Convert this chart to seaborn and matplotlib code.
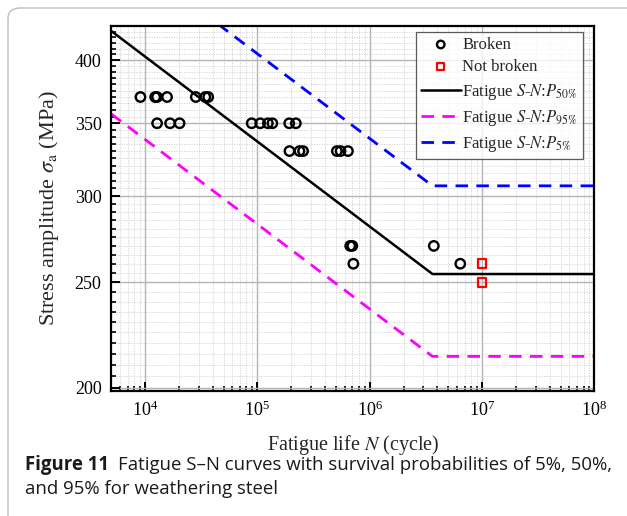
import numpy as np
import pandas as pd
import matplotlib
matplotlib.use("Agg")
import matplotlib.pyplot as plt
import matplotlib.ticker as mticker
from matplotlib.patches import FancyBboxPatch
import seaborn as sns

# Test data
broken_N = [9.1e3, 1.23e4, 1.28e4, 1.57e4, 2.83e4, 3.44e4, 3.65e4,
            1.28e4, 1.67e4, 2.03e4, 8.9e4, 1.06e5, 1.24e5, 1.36e5, 1.92e5, 2.2e5,
            1.93e5, 2.37e5, 2.55e5, 5.1e5, 5.5e5, 6.4e5,
            6.7e5, 7.0e5, 3.72e6,
            7.15e5, 6.4e6]
broken_S = [370, 370, 370, 370, 370, 370, 370,
            350, 350, 350, 350, 350, 350, 350, 350, 350,
            330, 330, 330, 330, 330, 330,
            270, 270, 270,
            260, 260]
runout_N = [1e7, 1e7]
runout_S = [260, 250]

# S-N curves (knee point, then constant)
curve_N = [5e3, 3.62e6, 1e8]
p50_S = [425.5, 254.4, 254.4]
p95_S = [357.0, 213.7, 213.7]
p5_S = [512.0, 306.6, 306.6]

y_major = [200, 250, 300, 350, 400]
x_major = [1e4, 1e5, 1e6, 1e7, 1e8]

sns.set_theme(style="ticks")
plt.rcParams['font.family'] = ['Liberation Serif', 'DejaVu Serif']
plt.rcParams['mathtext.fontset'] = 'stix'

fig = plt.figure(figsize=(6.27, 5.16), dpi=100)
ax = fig.add_axes([0.1774, 0.2422, 0.7706, 0.7074])

# outer rounded frame of the figure panel
frame = FancyBboxPatch((8 / 627, 1 - 8 / 516 - 1.1), 1.2, 1.1,
                       boxstyle="round,pad=0,rounding_size=0.02",
                       transform=fig.transFigure, fill=False,
                       edgecolor="#bdbdbd", linewidth=1.0, clip_on=False)
fig.patches.append(frame)

curves = pd.DataFrame({"N": curve_N, "P50": p50_S, "P95": p95_S, "P5": p5_S})

sns.scatterplot(x=broken_N, y=broken_S, ax=ax, marker="o", s=46,
                facecolors="none", edgecolor="black", linewidth=1.7,
                label="Broken", zorder=5)
sns.scatterplot(x=runout_N, y=runout_S, ax=ax, marker="s", s=40,
                facecolors="none", edgecolor="#ff0000", linewidth=1.6,
                label="Not broken", zorder=5)
sns.lineplot(data=curves, x="N", y="P50", ax=ax, color="black", linewidth=1.8,
             sort=False, label=r"Fatigue $S$-$N$:$P_{50\%}$")
sns.lineplot(data=curves, x="N", y="P95", ax=ax, color="#ff00ff", linewidth=2.0,
             linestyle=(0, (4.5, 3)), sort=False,
             label=r"Fatigue $S$-$N$:$P_{95\%}$")
sns.lineplot(data=curves, x="N", y="P5", ax=ax, color="#0000ff", linewidth=2.0,
             linestyle=(0, (4.5, 3)), sort=False,
             label=r"Fatigue $S$-$N$:$P_{5\%}$")

ax.set_xscale("log")
ax.set_yscale("log")
ax.set_xlim(5e3, 1e8)
ax.set_ylim(198.6, 430)

ax.xaxis.set_major_locator(mticker.FixedLocator(x_major))
ax.xaxis.set_minor_locator(mticker.LogLocator(base=10, subs=np.arange(2, 10)))
ax.xaxis.set_minor_formatter(mticker.NullFormatter())
ax.yaxis.set_major_locator(mticker.FixedLocator(y_major))
ax.yaxis.set_major_formatter(mticker.FixedFormatter([str(v) for v in y_major]))
ax.yaxis.set_minor_locator(mticker.FixedLocator([v for v in range(200, 431, 5) if v % 50]))
ax.yaxis.set_minor_formatter(mticker.NullFormatter())

ax.grid(which="major", color="#b4b4b4", linewidth=1.0, linestyle="-")
ax.grid(which="minor", color="#d0d0d0", linewidth=0.6, linestyle=(0, (1.5, 1.5)))
ax.set_axisbelow(True)

for sp in ax.spines.values():
    sp.set_linewidth(1.6)
    sp.set_color("black")
ax.tick_params(which="both", direction="in", top=False, right=False,
               labelsize=13, colors="black")
ax.tick_params(which="major", length=6.5, width=1.4, pad=7)
ax.tick_params(which="minor", length=3.5, width=1.2)

ax.set_xlabel(r"Fatigue life $N$ (cycle)", fontsize=14.5, labelpad=9)
ax.set_ylabel(r"Stress amplitude $\sigma_{\rm a}$ (MPa)", fontsize=16, labelpad=10)

leg = ax.legend(loc="upper right", bbox_to_anchor=(0.976, 0.984), fontsize=12,
                frameon=True, fancybox=False, edgecolor="#333333",
                handlelength=2.4, handletextpad=0.1, borderpad=0.3,
                labelspacing=0.38, borderaxespad=0, markerscale=0.8)
leg.get_frame().set_linewidth(0.9)

# caption
cap_font = ["Open Sans", "DejaVu Sans"]
cap1 = fig.text(25 / 627, 1 - 465 / 516, "Figure 11", fontsize=13.4,
                fontweight="bold", family=cap_font,
                va="center", ha="left", color="#1a1a1a")
fig.canvas.draw()
bb = cap1.get_window_extent().transformed(fig.transFigure.inverted())
fig.text(bb.x1 + 9 / 627, 1 - 465 / 516,
         "Fatigue S\u2013N curves with survival probabilities of 5%, 50%,",
         fontsize=13.4, family=cap_font, va="center",
         ha="left", color="#1a1a1a")
fig.text(25 / 627, 1 - 489 / 516, "and 95% for weathering steel",
         fontsize=13.4, family=cap_font, va="center",
         ha="left", color="#1a1a1a")

plt.savefig("out.png", dpi=100)
plt.close()
